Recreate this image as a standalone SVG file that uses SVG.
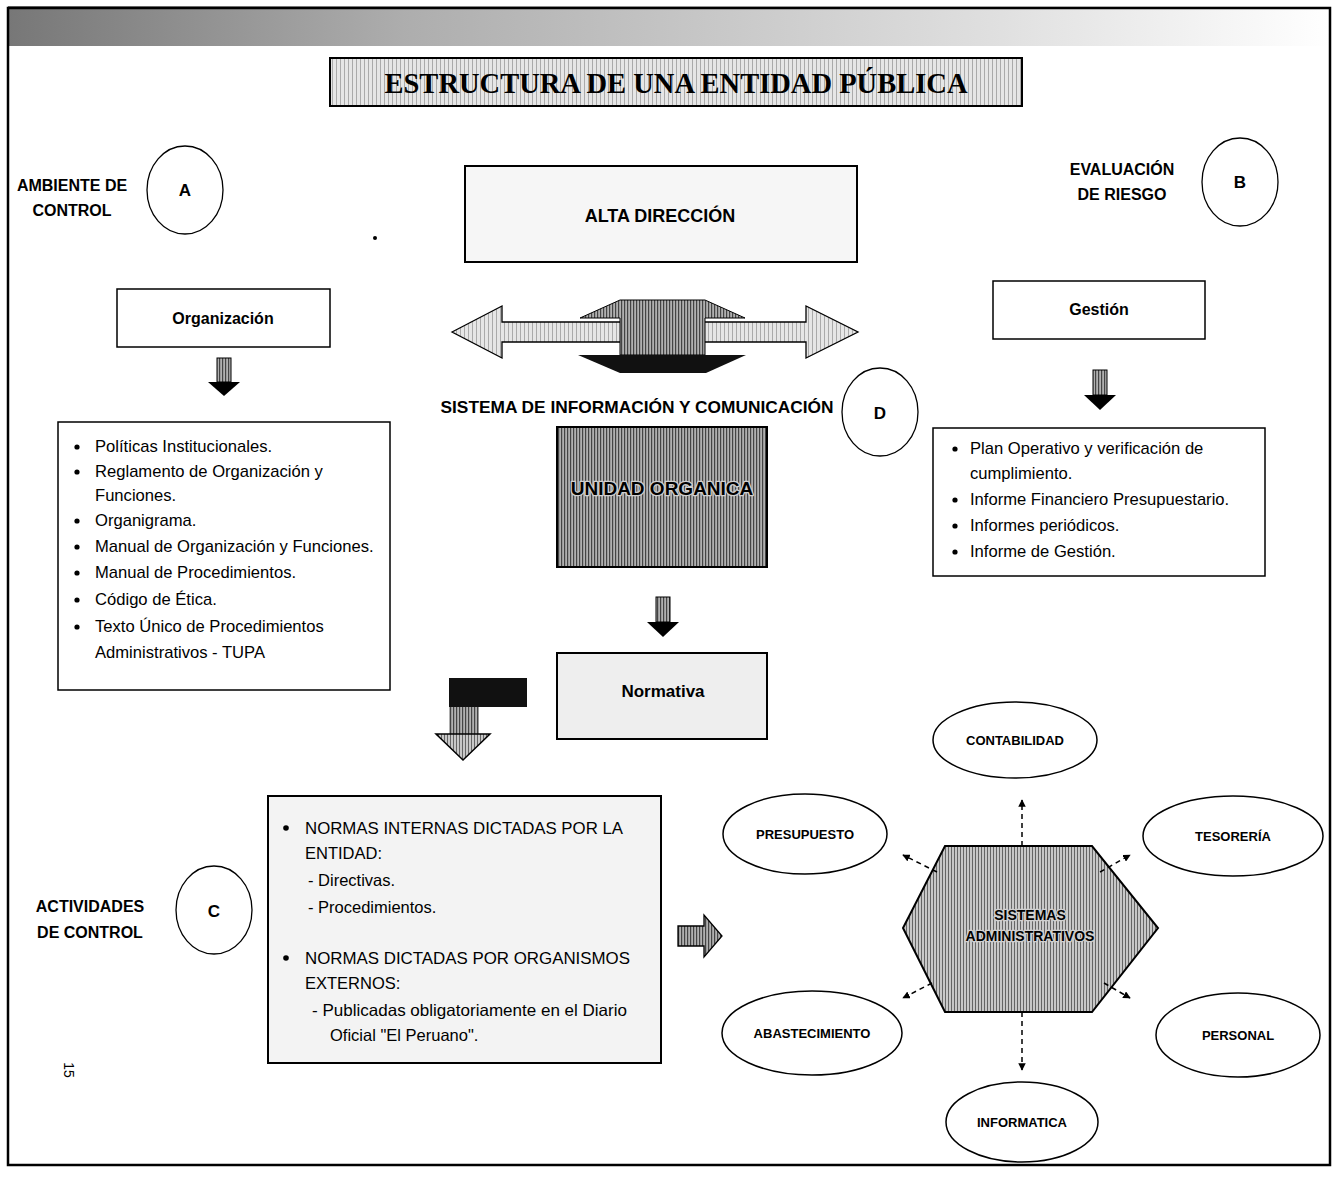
<svg xmlns="http://www.w3.org/2000/svg" width="1335" height="1196" viewBox="0 0 1335 1196">
<defs>
<linearGradient id="hdr" x1="0" y1="0" x2="1" y2="0">
<stop offset="0" stop-color="#555"/>
<stop offset="0.3" stop-color="#999"/>
<stop offset="0.75" stop-color="#d8d8d8"/>
<stop offset="1" stop-color="#fff"/>
</linearGradient>
<pattern id="hatchDark" width="3" height="4" patternUnits="userSpaceOnUse">
<rect width="3" height="4" fill="#b0b0b0"/>
<rect width="1.2" height="4" fill="#444"/>
</pattern>
<pattern id="hatchMid" width="3" height="4" patternUnits="userSpaceOnUse">
<rect width="3" height="4" fill="#c8c8c8"/>
<rect width="1" height="4" fill="#666"/>
</pattern>
<pattern id="hatchLight" width="4" height="4" patternUnits="userSpaceOnUse">
<rect width="4" height="4" fill="#e6e6e6"/>
<rect width="1" height="4" fill="#aaa"/>
</pattern>
<marker id="ah" viewBox="0 0 10 10" refX="9" refY="5" markerWidth="5" markerHeight="5" orient="auto">
<path d="M0,0 L10,5 L0,10 z" fill="#000"/>
</marker>
<style>
.b{font-family:"Liberation Sans",Arial,sans-serif;font-weight:bold;fill:#000}
.r{font-family:"Liberation Sans",Arial,sans-serif;fill:#000}
.halo{paint-order:stroke;stroke:#d0d0d0;stroke-width:2.5px;stroke-linejoin:round}
.box{fill:#fff;stroke:#000;stroke-width:1.5}
.circ{fill:#fff;stroke:#000;stroke-width:1.3}
.ell{fill:#fff;stroke:#000;stroke-width:1.5}
.dash{fill:none;stroke:#000;stroke-width:1.5;stroke-dasharray:5 4;marker-end:url(#ah)}
.lbl{font-size:16px}
.item{font-size:16.6px}
.ellt{font-size:13px}
.c{text-anchor:middle}
</style>
</defs>
<rect width="1335" height="1196" fill="#fff"/>
<rect x="8" y="6" width="1322" height="40" fill="url(#hdr)" opacity="0.8"/>
<rect x="8" y="8" width="1322" height="1157" fill="none" stroke="#000" stroke-width="2.5"/>

<g id="title">
<rect x="330" y="58" width="692" height="48" fill="url(#hatchLight)" stroke="#000" stroke-width="2"/>
<text x="676" y="93" font-family="'Liberation Serif',serif" font-weight="bold" font-size="30" text-anchor="middle" textLength="583" lengthAdjust="spacingAndGlyphs">ESTRUCTURA DE UNA ENTIDAD PÚBLICA</text>
</g>

<g id="ambiente">
<text class="b lbl c" x="72" y="191">AMBIENTE DE</text>
<text class="b lbl c" x="72" y="216">CONTROL</text>
<ellipse class="circ" cx="185" cy="190" rx="38" ry="44"/>
<text class="b c" x="185" y="196" font-size="17">A</text>
</g>

<g id="evaluacion">
<text class="b lbl c" x="1122" y="175">EVALUACIÓN</text>
<text class="b lbl c" x="1122" y="200">DE RIESGO</text>
<ellipse class="circ" cx="1240" cy="182" rx="38" ry="44"/>
<text class="b c" x="1240" y="188" font-size="17">B</text>
</g>

<g id="alta">
<rect x="465" y="166" width="392" height="96" fill="#f6f6f6" stroke="#000" stroke-width="2"/>
<text class="b c" x="660" y="222" font-size="18">ALTA DIRECCIÓN</text>
</g>

<g id="organizacion">
<rect class="box" x="117" y="289" width="213" height="58" fill="#fafafa"/>
<text class="b c" x="223" y="324" font-size="16">Organización</text>
</g>

<g id="gestion">
<rect class="box" x="993" y="281" width="212" height="58"/>
<text class="b c" x="1099" y="315" font-size="16">Gestión</text>
</g>

<g id="sistema">
<text class="b c" x="637" y="413" font-size="16.5" textLength="393" lengthAdjust="spacingAndGlyphs">SISTEMA DE INFORMACIÓN Y COMUNICACIÓN</text>
<ellipse class="circ" cx="880" cy="412" rx="38" ry="44"/>
<text class="b c" x="880" y="419" font-size="17">D</text>
</g>

<g id="unidad">
<rect x="557" y="427" width="210" height="140" fill="url(#hatchDark)" stroke="#000" stroke-width="2"/>
<text class="b c halo" x="662" y="495" font-size="19">UNIDAD ORGANICA</text>
</g>

<g id="normativa">
<rect x="557" y="653" width="210" height="86" fill="#eeeeee" stroke="#000" stroke-width="2"/>
<text class="b c" x="663" y="697" font-size="17">Normativa</text>
</g>

<g id="lista-organizacion">
<rect class="box" x="58" y="422" width="332" height="268"/>
<g class="r item">
<circle cx="77" cy="447" r="2.6"/><text x="95" y="452">Políticas Institucionales.</text>
<circle cx="77" cy="472" r="2.6"/><text x="95" y="477">Reglamento de Organización y</text>
<text x="95" y="501">Funciones.</text>
<circle cx="77" cy="521" r="2.6"/><text x="95" y="526">Organigrama.</text>
<circle cx="77" cy="547" r="2.6"/><text x="95" y="552">Manual de Organización y Funciones.</text>
<circle cx="77" cy="573" r="2.6"/><text x="95" y="578">Manual de Procedimientos.</text>
<circle cx="77" cy="600" r="2.6"/><text x="95" y="605">Código de Ética.</text>
<circle cx="77" cy="627" r="2.6"/><text x="95" y="632">Texto Único de Procedimientos</text>
<text x="95" y="658">Administrativos - TUPA</text>
</g>
</g>

<g id="lista-gestion">
<rect class="box" x="933" y="428" width="332" height="148"/>
<g class="r item">
<circle cx="955" cy="449" r="2.6"/><text x="970" y="454">Plan Operativo y verificación de</text>
<text x="970" y="479">cumplimiento.</text>
<circle cx="955" cy="500" r="2.6"/><text x="970" y="505">Informe Financiero Presupuestario.</text>
<circle cx="955" cy="526" r="2.6"/><text x="970" y="531">Informes periódicos.</text>
<circle cx="955" cy="552" r="2.6"/><text x="970" y="557">Informe de Gestión.</text>
</g>
</g>

<g id="actividades">
<text class="b lbl c" x="90" y="912">ACTIVIDADES</text>
<text class="b lbl c" x="90" y="938">DE CONTROL</text>
<ellipse class="circ" cx="214" cy="910" rx="38" ry="44"/>
<text class="b c" x="214" y="917" font-size="17">C</text>
</g>

<g id="normas">
<rect x="268" y="796" width="393" height="267" fill="#f3f3f3" stroke="#000" stroke-width="2"/>
<g class="r" font-size="16.5">
<circle cx="286" cy="828" r="2.8"/>
<text x="305" y="834" textLength="318" lengthAdjust="spacingAndGlyphs">NORMAS INTERNAS DICTADAS POR LA</text>
<text x="305" y="859">ENTIDAD:</text>
<text x="308" y="886">- Directivas.</text>
<text x="308" y="913">- Procedimientos.</text>
<circle cx="286" cy="958" r="2.8"/>
<text x="305" y="964" textLength="325" lengthAdjust="spacingAndGlyphs">NORMAS DICTADAS POR ORGANISMOS</text>
<text x="305" y="989">EXTERNOS:</text>
<text x="312" y="1016" textLength="315" lengthAdjust="spacingAndGlyphs">- Publicadas obligatoriamente en el Diario</text>
<text x="330" y="1041">Oficial "El Peruano".</text>
</g>
</g>

<g id="sistemas-admin">
<polygon points="945,846 1092,846 1158,928 1092,1012 945,1012 903,928" fill="url(#hatchMid)" stroke="#000" stroke-width="2"/>
<text class="b c halo" x="1030" y="920" font-size="14">SISTEMAS</text>
<text class="b c halo" x="1030" y="941" font-size="14">ADMINISTRATIVOS</text>
</g>

<g id="contabilidad"><ellipse class="ell" cx="1015" cy="740" rx="82" ry="38"/><text class="b ellt c" x="1015" y="745">CONTABILIDAD</text></g>
<g id="presupuesto"><ellipse class="ell" cx="805" cy="834" rx="82" ry="40"/><text class="b ellt c" x="805" y="839">PRESUPUESTO</text></g>
<g id="tesoreria"><ellipse class="ell" cx="1233" cy="836" rx="90" ry="40"/><text class="b ellt c" x="1233" y="841">TESORERÍA</text></g>
<g id="abastecimiento"><ellipse class="ell" cx="812" cy="1033" rx="90" ry="42"/><text class="b ellt c" x="812" y="1038">ABASTECIMIENTO</text></g>
<g id="personal"><ellipse class="ell" cx="1238" cy="1035" rx="82" ry="42"/><text class="b ellt c" x="1238" y="1040">PERSONAL</text></g>
<g id="informatica"><ellipse class="ell" cx="1022" cy="1122" rx="76" ry="40"/><text class="b ellt c" x="1022" y="1127">INFORMATICA</text></g>

<g id="connectors">
<polygon points="452,332 502,306 502,322 806,322 806,306 858,332 806,358 806,342 502,342 502,358" fill="url(#hatchLight)" stroke="#000" stroke-width="1.3"/>
<polygon points="580,318 620,300 705,300 745,318 705,318 705,355 620,355 620,318" fill="url(#hatchDark)" stroke="#000" stroke-width="1"/>
<polygon points="578,355 746,355 706,373 620,373" fill="#111"/>
<rect x="217" y="358" width="14" height="24" fill="url(#hatchDark)" stroke="#000"/>
<polygon points="208,382 240,382 224,396" fill="#000"/>
<rect x="1093" y="370" width="14" height="25" fill="url(#hatchDark)" stroke="#000"/>
<polygon points="1084,395 1116,395 1100,410" fill="#000"/>
<rect x="656" y="597" width="14" height="25" fill="url(#hatchDark)" stroke="#000"/>
<polygon points="647,622 679,622 663,637" fill="#000"/>
<polygon points="449,678 527,678 527,707 479,707 479,734 449,734" fill="#111"/>
<rect x="449" y="707" width="30" height="27" fill="url(#hatchDark)"/>
<polygon points="436,734 490,734 463,760" fill="url(#hatchMid)" stroke="#000" stroke-width="1.5"/>
<polygon points="678,926 704,926 704,915 722,936 704,957 704,946 678,946" fill="url(#hatchDark)" stroke="#000" stroke-width="1.3"/>
<line class="dash" x1="1022" y1="846" x2="1022" y2="800"/>
<line class="dash" x1="1022" y1="1012" x2="1022" y2="1070"/>
<line class="dash" x1="937" y1="872" x2="903" y2="855"/>
<line class="dash" x1="1100" y1="872" x2="1130" y2="855"/>
<line class="dash" x1="932" y1="983" x2="903" y2="998"/>
<line class="dash" x1="1104" y1="983" x2="1130" y2="998"/>
</g>

<circle cx="375" cy="238" r="2" fill="#000"/>
<text class="r" x="64" y="1070" font-size="14" transform="rotate(90 64 1070)" text-anchor="middle">15</text>
</svg>
